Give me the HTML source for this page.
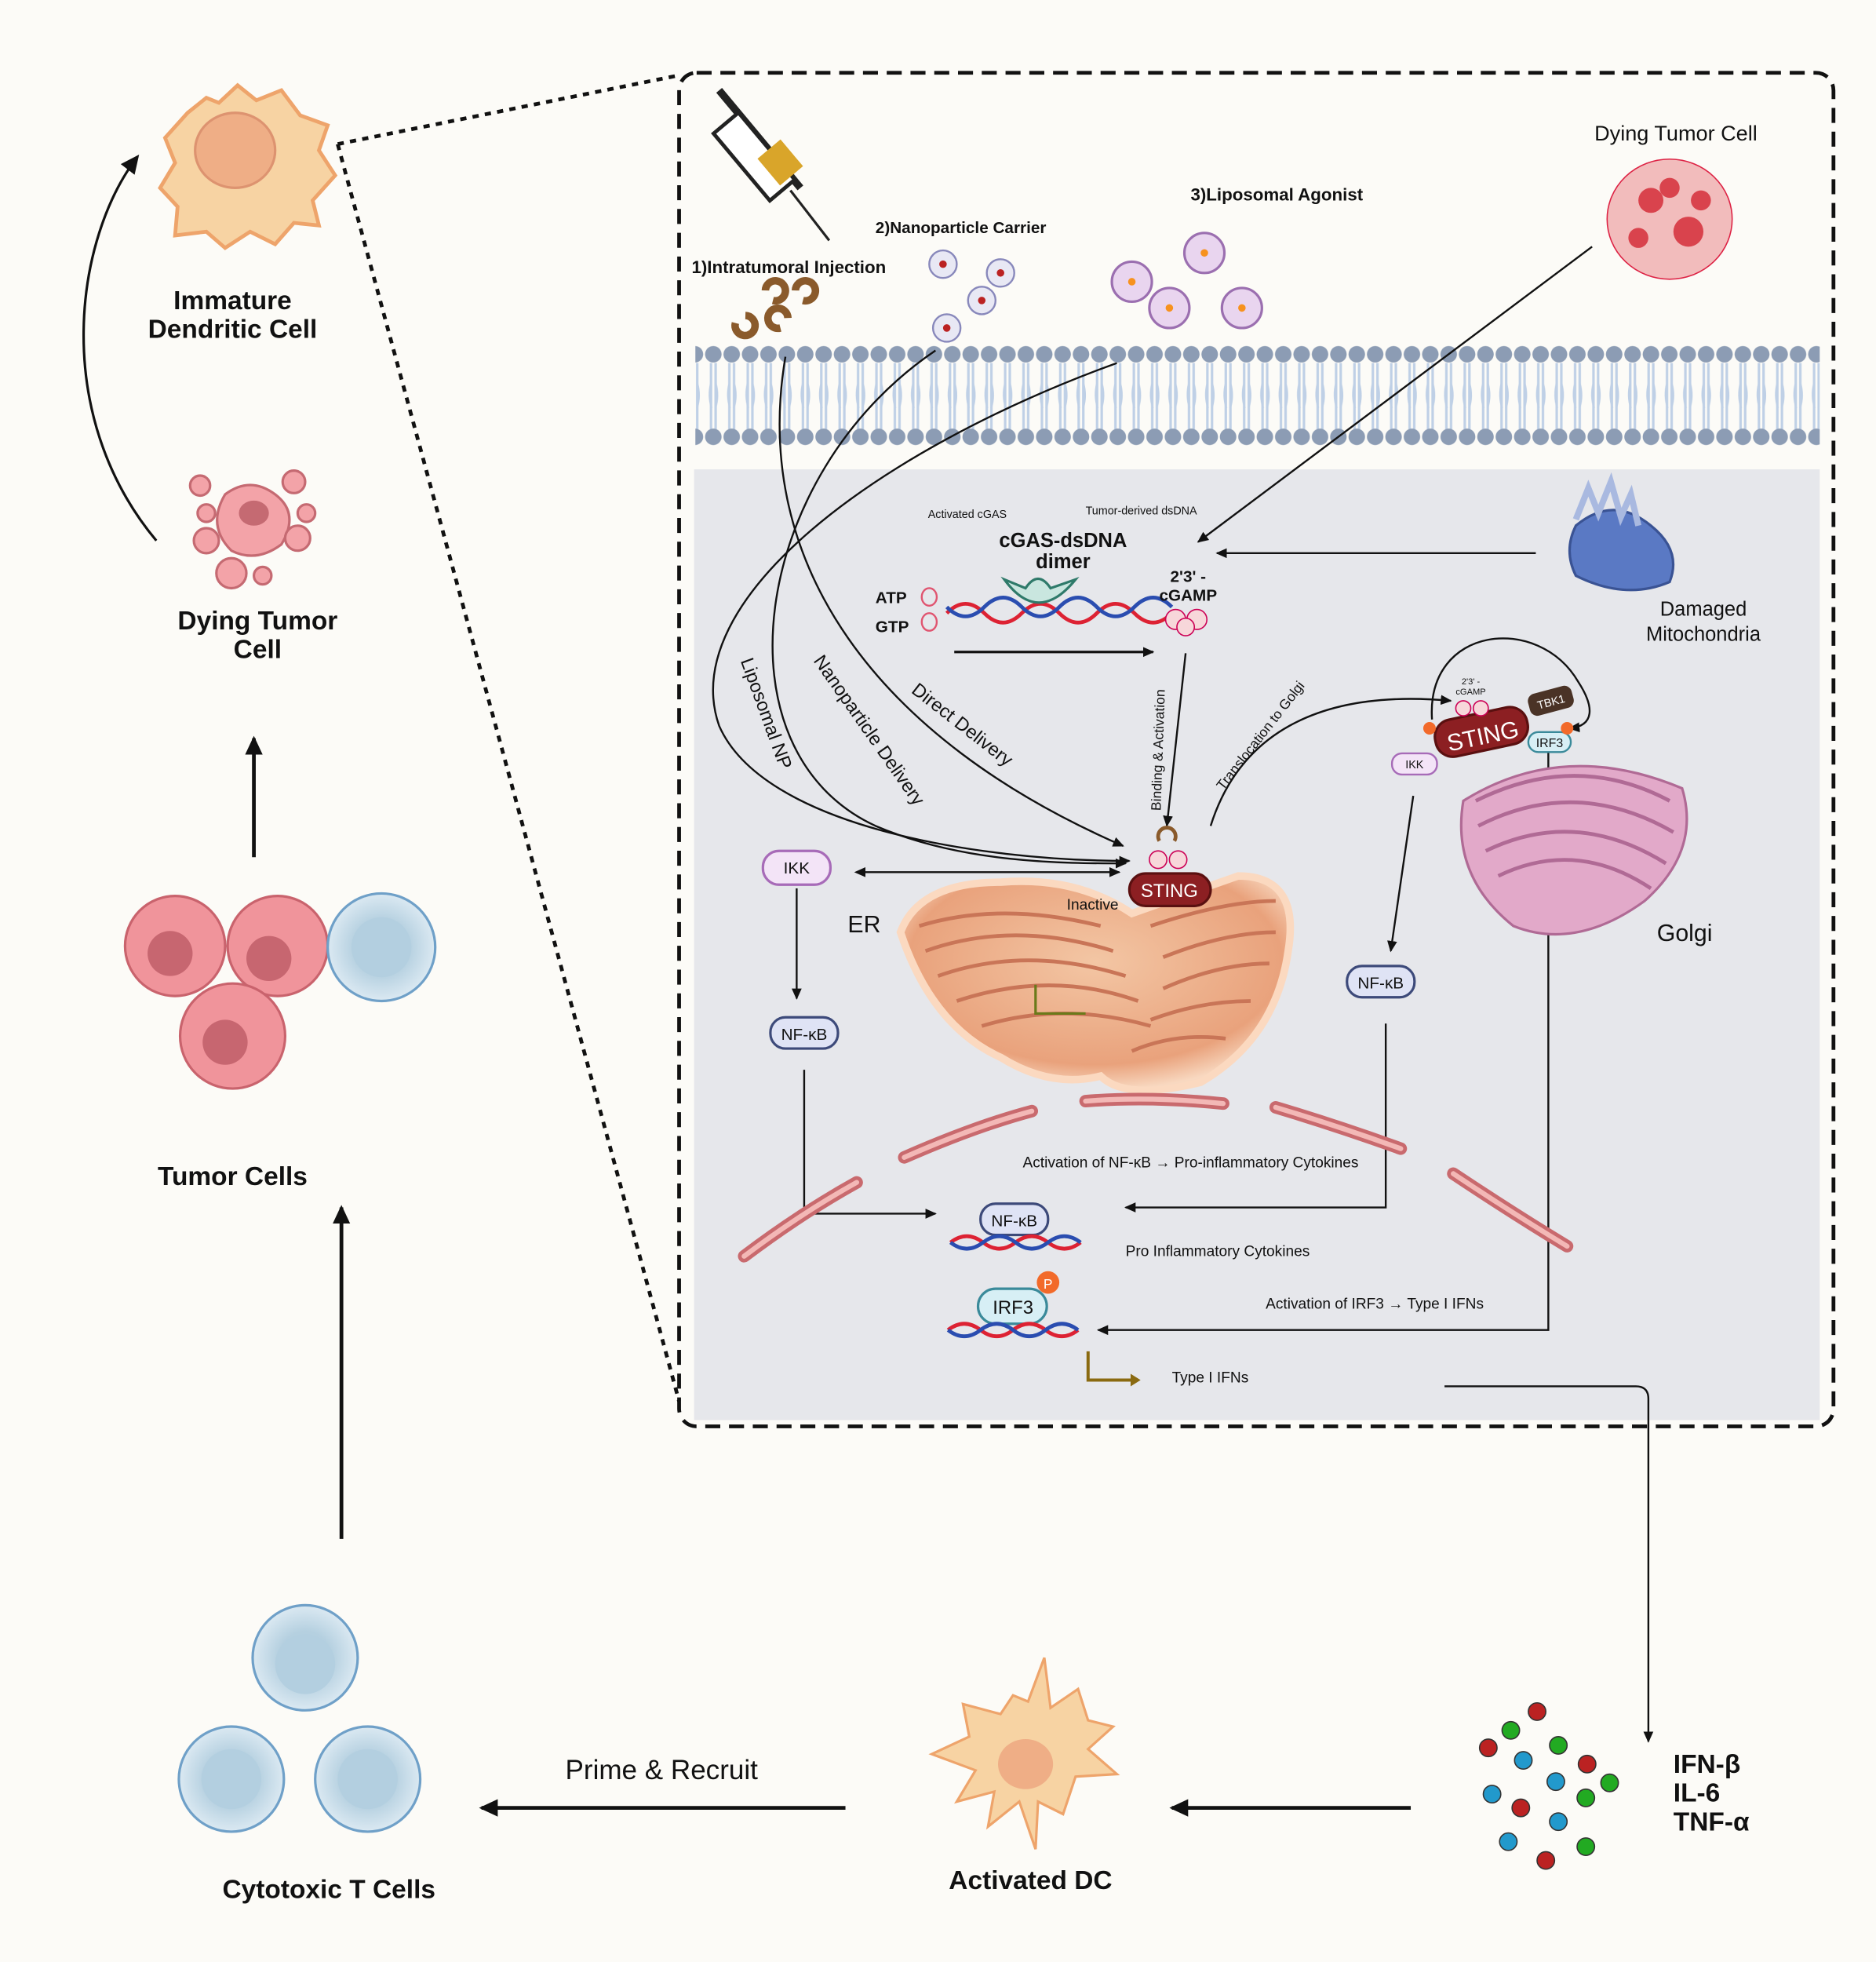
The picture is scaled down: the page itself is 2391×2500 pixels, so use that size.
<!DOCTYPE html>
<html><head><meta charset="utf-8"><style>
html,body{margin:0;padding:0;background:#fcfbf7;}
svg{display:block;}
text{font-family:"Liberation Sans",sans-serif;fill:#111;}
</style></head><body>
<svg width="2391" height="2500" viewBox="0 0 1500 1568" xmlns="http://www.w3.org/2000/svg">
<defs>
<pattern id="mem" x="563" y="0" width="14.7" height="1568" patternUnits="userSpaceOnUse">
<path d="M5.5 290 L5.5 343 M9.2 290 L9.2 343" stroke="#bfd0e6" stroke-width="2" fill="none"/>
<path d="M5.5 306 Q3 316 6 326 M9.2 306 Q12 316 9 326" stroke="#bfd0e6" stroke-width="1.5" fill="none"/>
<circle cx="7.35" cy="283" r="6.6" fill="#8c9cb4"/>
<circle cx="7.35" cy="349" r="6.6" fill="#8c9cb4"/>
</pattern>
<marker id="ar" markerWidth="10" markerHeight="10" refX="8" refY="5" orient="auto" markerUnits="userSpaceOnUse"><path d="M0 1 L9 5 L0 9 Z" fill="#111"/></marker>
<marker id="arb" markerWidth="16" markerHeight="16" refX="13" refY="8" orient="auto" markerUnits="userSpaceOnUse"><path d="M0 1 L15 8 L0 15 Z" fill="#111"/></marker>
<marker id="ars" markerWidth="10" markerHeight="10" refX="2" refY="5" orient="auto-start-reverse" markerUnits="userSpaceOnUse"><path d="M0 1 L9 5 L0 9 Z" fill="#111"/></marker>
<radialGradient id="erg" cx="50%" cy="40%" r="60%"><stop offset="0" stop-color="#f3c6a4"/><stop offset="0.8" stop-color="#e9a27c"/><stop offset="1" stop-color="#f8d8c0"/></radialGradient>
<radialGradient id="tcell"><stop offset="0.5" stop-color="#b5d0e0"/><stop offset="1" stop-color="#dbe9f2"/></radialGradient>
</defs>
<rect width="1500" height="1568" fill="#fcfbf7"/>

<!-- dotted zoom lines -->
<path d="M270 115 L543 60 M270 115 L543 1120" stroke="#111" stroke-width="3" stroke-dasharray="5 5" fill="none"/>
<!-- gray area -->
<rect x="555" y="375" width="900" height="760" fill="#e6e7eb"/>
<!-- membrane -->
<rect x="556" y="270" width="899" height="90" fill="url(#mem)"/>
<!-- dashed box -->
<rect x="543" y="58" width="923" height="1082" rx="14" fill="none" stroke="#111" stroke-width="3" stroke-dasharray="12 7"/>

<!-- Left column -->
<g>
<path d="M150 90 L165 78 L175 82 L190 68 L205 80 L225 72 L240 92 L262 100 L255 120 L268 140 L250 160 L255 180 L235 178 L220 195 L200 185 L180 198 L165 185 L140 188 L142 165 L128 150 L140 130 L132 110 Z" fill="#f7d3a3" stroke="#eea46b" stroke-width="3"/>
<ellipse cx="188" cy="120" rx="32" ry="30" fill="#efae86" stroke="#dd9370" stroke-width="2"/>
<text x="186" y="247" font-size="21" font-weight="bold" text-anchor="middle">Immature</text>
<text x="186" y="270" font-size="21" font-weight="bold" text-anchor="middle">Dendritic Cell</text>
<path d="M125 432 C40 330 60 190 110 125" stroke="#111" stroke-width="2" fill="none" marker-end="url(#arb)"/>
<g fill="#f3a3a8" stroke="#c56a72" stroke-width="2">
<path d="M180 395 Q200 380 220 395 Q240 410 225 435 Q205 450 185 440 Q165 420 180 395Z"/>
<circle cx="165" cy="432" r="10"/><circle cx="238" cy="430" r="10"/><circle cx="185" cy="458" r="12"/><circle cx="160" cy="388" r="8"/><circle cx="235" cy="385" r="9"/><circle cx="210" cy="460" r="7"/><circle cx="245" cy="410" r="7"/><circle cx="165" cy="410" r="7"/>
</g>
<ellipse cx="203" cy="410" rx="12" ry="10" fill="#c56a72"/>
<text x="206" y="503" font-size="21" font-weight="bold" text-anchor="middle">Dying Tumor</text>
<text x="206" y="526" font-size="21" font-weight="bold" text-anchor="middle">Cell</text>
<line x1="203" y1="685" x2="203" y2="590" stroke="#111" stroke-width="3" marker-end="url(#arb)"/>
<g fill="#f0949b" stroke="#c9636d" stroke-width="2">
<circle cx="140" cy="756" r="40"/><circle cx="222" cy="756" r="40"/><circle cx="186" cy="828" r="42"/>
</g>
<g fill="#c76670"><circle cx="136" cy="762" r="18"/><circle cx="215" cy="766" r="18"/><circle cx="180" cy="833" r="18"/></g>
<circle cx="305" cy="757" r="43" fill="url(#tcell)" stroke="#6fa0c8" stroke-width="2"/>
<circle cx="305" cy="757" r="24" fill="#b3cfe0"/>
<text x="186" y="947" font-size="21" font-weight="bold" text-anchor="middle">Tumor Cells</text>
<line x1="273" y1="1230" x2="273" y2="965" stroke="#111" stroke-width="3" marker-end="url(#arb)"/>
<g stroke="#6fa0c8" stroke-width="2" fill="url(#tcell)">
<circle cx="244" cy="1325" r="42"/><circle cx="185" cy="1422" r="42"/><circle cx="294" cy="1422" r="42"/></g>
<g fill="#b3cfe0"><circle cx="244" cy="1330" r="24"/><circle cx="185" cy="1422" r="24"/><circle cx="294" cy="1422" r="24"/></g>
<text x="263" y="1517" font-size="21" font-weight="bold" text-anchor="middle">Cytotoxic T Cells</text>
<line x1="676" y1="1445" x2="385" y2="1445" stroke="#111" stroke-width="3" marker-end="url(#arb)"/>
<text x="529" y="1422" font-size="22" text-anchor="middle">Prime &amp; Recruit</text>
<path d="M800 1370 L810 1355 L822 1360 L835 1325 L840 1365 L862 1350 L870 1375 L890 1380 L870 1398 L893 1418 L860 1420 L850 1450 L830 1440 L828 1478 L815 1440 L790 1460 L795 1432 L765 1440 L780 1415 L745 1402 L775 1388 L770 1362 Z" fill="#f7d3a3" stroke="#eea46b" stroke-width="2"/>
<ellipse cx="820" cy="1410" rx="22" ry="20" fill="#efae86"/>
<text x="824" y="1510" font-size="21" font-weight="bold" text-anchor="middle">Activated DC</text>
<line x1="1128" y1="1445" x2="937" y2="1445" stroke="#111" stroke-width="3" marker-end="url(#arb)"/>
<g stroke="#333" stroke-width="1">
<circle cx="1229" cy="1368" r="7" fill="#b22" /><circle cx="1208" cy="1383" r="7" fill="#2a2"/><circle cx="1190" cy="1397" r="7" fill="#b22"/><circle cx="1246" cy="1395" r="7" fill="#2a2"/><circle cx="1218" cy="1407" r="7" fill="#29c"/><circle cx="1269" cy="1410" r="7" fill="#b22"/><circle cx="1287" cy="1425" r="7" fill="#2a2"/><circle cx="1244" cy="1424" r="7" fill="#29c"/><circle cx="1193" cy="1434" r="7" fill="#29c"/><circle cx="1268" cy="1437" r="7" fill="#2a2"/><circle cx="1216" cy="1445" r="7" fill="#b22"/><circle cx="1246" cy="1456" r="7" fill="#29c"/><circle cx="1206" cy="1472" r="7" fill="#29c"/><circle cx="1268" cy="1476" r="7" fill="#2a2"/><circle cx="1236" cy="1487" r="7" fill="#b22"/>
</g>
<text x="1338" y="1417" font-size="21" font-weight="bold">IFN-β</text>
<text x="1338" y="1440" font-size="21" font-weight="bold">IL-6</text>
<text x="1338" y="1463" font-size="21" font-weight="bold">TNF-α</text>
<path d="M1155 1108 L1308 1108 Q1318 1108 1318 1118 L1318 1392" stroke="#111" stroke-width="1.5" fill="none" marker-end="url(#ar)"/>
</g>

<!-- Inside box top -->
<g>
<line x1="575" y1="72" x2="640" y2="150" stroke="#222" stroke-width="6"/>
<rect x="590" y="90" width="26" height="70" transform="rotate(-40 603 125)" fill="#fff" stroke="#222" stroke-width="3"/>
<rect x="604" y="128" width="24" height="28" transform="rotate(-40 603 125)" fill="#d9a52a"/>
<line x1="632" y1="152" x2="663" y2="192" stroke="#222" stroke-width="2"/>
<text x="553" y="218" font-size="14" font-weight="bold">1)Intratumoral Injection</text>
<text x="700" y="186" font-size="13" font-weight="bold">2)Nanoparticle Carrier</text>
<text x="952" y="160" font-size="14" font-weight="bold">3)Liposomal Agonist</text>
<text x="1340" y="112" font-size="17" text-anchor="middle">Dying Tumor Cell</text>
<g fill="none" stroke="#8a5a2b" stroke-width="6"><path d="M612 232 a8 8 0 1 1 6 8"/><path d="M636 232 a8 8 0 1 1 6 8"/><path d="M588 258 a8 8 0 1 0 8 -6"/><path d="M624 262 a8 8 0 1 1 6 -8"/></g>
<g fill="#e8e8f4" stroke="#8888bb" stroke-width="1.5"><circle cx="754" cy="211" r="11"/><circle cx="800" cy="218" r="11"/><circle cx="785" cy="240" r="11"/><circle cx="757" cy="262" r="11"/></g>
<g fill="#b22"><circle cx="754" cy="211" r="3"/><circle cx="800" cy="218" r="3"/><circle cx="785" cy="240" r="3"/><circle cx="757" cy="262" r="3"/></g>
<g fill="#e9d5ef" stroke="#9b6fb0" stroke-width="2"><circle cx="905" cy="225" r="16"/><circle cx="963" cy="202" r="16"/><circle cx="935" cy="246" r="16"/><circle cx="993" cy="246" r="16"/></g>
<g fill="#f7921e"><circle cx="905" cy="225" r="3"/><circle cx="963" cy="202" r="3"/><circle cx="935" cy="246" r="3"/><circle cx="993" cy="246" r="3"/></g>
<g fill="#f2bcbc" stroke="#d24" stroke-width="1"><ellipse cx="1335" cy="175" rx="50" ry="48"/></g>
<g fill="#d9434d"><circle cx="1320" cy="160" r="10"/><circle cx="1350" cy="185" r="12"/><circle cx="1335" cy="150" r="8"/><circle cx="1310" cy="190" r="8"/><circle cx="1360" cy="160" r="8"/></g>
</g>

<!-- paths -->
<g stroke="#111" stroke-width="1.5" fill="none">
<line x1="1273" y1="197" x2="958" y2="433" marker-end="url(#ar)"/>
<line x1="1228" y1="442" x2="973" y2="442" marker-end="url(#ar)"/>
<path d="M628 285 C600 450 700 590 898 676" marker-end="url(#ar)"/>
<path d="M748 280 C600 380 570 600 700 660 C770 690 850 690 900 690" marker-end="url(#ar)"/>
<path d="M893 290 C700 360 540 480 575 580 C610 660 780 688 903 688" marker-end="url(#ar)"/>
<line x1="763" y1="521" x2="922" y2="521" stroke-width="2" marker-end="url(#ar)"/>
<line x1="948" y1="522" x2="933" y2="660" marker-end="url(#ar)"/>
<path d="M968 660 C990 590 1050 550 1160 560" marker-end="url(#ar)"/>
<line x1="690" y1="697" x2="895" y2="697" marker-start="url(#ars)" marker-end="url(#ar)"/>
<line x1="637" y1="710" x2="637" y2="798" marker-end="url(#ar)"/>
<path d="M643 855 L643 970 L748 970" marker-end="url(#ar)"/>
<line x1="1130" y1="636" x2="1112" y2="760" marker-end="url(#ar)"/>
<path d="M1108 818 L1108 965 L900 965" marker-end="url(#ar)"/>
<path d="M1238 600 L1238 1063 L878 1063" marker-end="url(#ar)"/>
<path d="M1145 575 C1140 500 1230 490 1262 545 C1275 565 1275 580 1255 582" marker-end="url(#ar)"/>
</g>

<!-- cGAS region -->
<text x="742" y="414" font-size="9">Activated cGAS</text>
<text x="868" y="411" font-size="9">Tumor-derived dsDNA</text>
<text x="850" y="437" font-size="16" font-weight="bold" text-anchor="middle">cGAS-dsDNA</text>
<text x="850" y="454" font-size="16" font-weight="bold" text-anchor="middle">dimer</text>
<text x="700" y="482" font-size="13" font-weight="bold">ATP</text>
<text x="700" y="505" font-size="13" font-weight="bold">GTP</text>
<g fill="none" stroke="#e05570" stroke-width="1.5"><ellipse cx="743" cy="477" rx="6" ry="7"/><ellipse cx="743" cy="497" rx="6" ry="7"/></g>
<path d="M757 490 q15 -15 30 0 t30 0 t30 0 t30 0 t30 0 t30 0" stroke="#d23" stroke-width="3" fill="none"/>
<path d="M757 485 q15 15 30 0 t30 0 t30 0 t30 0 t30 0 t30 0" stroke="#2a4db0" stroke-width="3" fill="none"/>
<path d="M803 463 Q830 500 860 463 L840 470 Q830 455 820 470 Z" fill="#c9e6df" stroke="#2f7a6a" stroke-width="2"/>
<text x="950" y="465" font-size="13" font-weight="bold" text-anchor="middle">2'3' -</text>
<text x="950" y="480" font-size="13" font-weight="bold" text-anchor="middle">cGAMP</text>
<g fill="#f7d7da" stroke="#c05" stroke-width="1"><circle cx="940" cy="495" r="8"/><circle cx="957" cy="495" r="8"/><circle cx="948" cy="501" r="7"/></g>
<path d="M1260 420 Q1290 395 1320 420 Q1345 440 1335 465 Q1300 480 1260 460 Q1250 440 1260 420Z" fill="#5a79c4" stroke="#3a5394" stroke-width="2"/>
<path d="M1260 415 l10 -25 l8 20 l10 -25 l8 28 l8 -18 l6 25" stroke="#a9b9e0" stroke-width="5" fill="none"/>
<text x="1362" y="492" font-size="16" text-anchor="middle">Damaged</text>
<text x="1362" y="512" font-size="16" text-anchor="middle">Mitochondria</text>

<!-- rotated labels -->
<text transform="translate(592 528) rotate(70)" font-size="15">Liposomal NP</text>
<text transform="translate(650 528) rotate(55)" font-size="15">Nanoparticle Delivery</text>
<text transform="translate(728 553) rotate(38)" font-size="15">Direct Delivery</text>
<text transform="translate(928 648) rotate(-88)" font-size="11">Binding &amp; Activation</text>
<text transform="translate(978 632) rotate(-52)" font-size="11">Translocation to Golgi</text>

<!-- ER -->
<path d="M720 745 Q735 705 800 705 Q860 700 905 730 L990 700 Q1040 700 1030 760 Q1020 830 960 865 Q900 880 880 860 Q840 870 800 845 Q745 820 720 745Z" fill="url(#erg)" stroke="#fbd9c0" stroke-width="6"/>
<g fill="none" stroke="#c97557" stroke-width="3">
<path d="M735 740 Q800 720 880 740"/><path d="M740 760 Q810 735 890 760"/><path d="M750 780 Q820 755 900 780"/><path d="M765 800 Q840 775 910 800"/><path d="M785 820 Q850 800 920 820"/><path d="M920 740 Q980 720 1020 720"/><path d="M930 765 Q980 745 1020 745"/><path d="M930 790 Q975 770 1015 770"/><path d="M920 815 Q960 800 1000 800"/><path d="M905 840 Q940 825 980 830"/>
</g>
<path d="M828 787 L828 810 L868 810" stroke="#6a7a1a" stroke-width="2" fill="none"/>
<text x="691" y="745" font-size="19" text-anchor="middle">ER</text>
<text x="853" y="727" font-size="12">Inactive</text>
<rect x="903" y="698" width="65" height="26" rx="13" fill="#8c1f22" stroke="#5a1010" stroke-width="2"/>
<text x="935" y="717" font-size="15" fill="#fff" text-anchor="middle" style="fill:#fff">STING</text>
<g fill="#f7d7da" stroke="#c05" stroke-width="1"><circle cx="926" cy="687" r="7"/><circle cx="942" cy="687" r="7"/></g>
<path d="M927 672 a7 7 0 1 1 12 0" stroke="#8a5a2b" stroke-width="3" fill="none"/>

<!-- Golgi -->
<path d="M1170 640 Q1250 590 1345 630 Q1360 680 1315 720 Q1260 760 1210 740 Q1160 700 1170 640Z" fill="#e2a9c9" stroke="#b06a95" stroke-width="2"/>
<g fill="none" stroke="#b06a95" stroke-width="3"><path d="M1180 640 Q1260 600 1335 640"/><path d="M1182 660 Q1260 620 1338 665"/><path d="M1188 680 Q1260 645 1332 690"/><path d="M1198 700 Q1260 670 1320 710"/></g>
<text x="1347" y="752" font-size="19" text-anchor="middle">Golgi</text>
<rect x="1147" y="570" width="75" height="30" rx="14" transform="rotate(-12 1184 585)" fill="#8c1f22" stroke="#5a1010" stroke-width="2"/>
<text x="1185" y="595" font-size="19" text-anchor="middle" transform="rotate(-12 1184 585)" style="fill:#fff">STING</text>
<rect x="1222" y="551" width="36" height="18" rx="6" transform="rotate(-15 1240 560)" fill="#4a3326"/>
<text x="1240" y="564" font-size="9" text-anchor="middle" transform="rotate(-15 1240 560)" style="fill:#fff">TBK1</text>
<rect x="1222" y="585" width="34" height="16" rx="8" fill="#d7eff5" stroke="#3a8a9a" stroke-width="1.5"/>
<text x="1239" y="597" font-size="10" text-anchor="middle">IRF3</text>
<rect x="1113" y="602" width="36" height="17" rx="8" fill="#f3e4f7" stroke="#a76bb8" stroke-width="1.5"/>
<text x="1131" y="614" font-size="9" text-anchor="middle">IKK</text>
<circle cx="1143" cy="582" r="5" fill="#f26a2a"/><circle cx="1253" cy="582" r="5" fill="#f26a2a"/>
<text x="1176" y="547" font-size="7" text-anchor="middle">2'3' -</text>
<text x="1176" y="555" font-size="7" text-anchor="middle">cGAMP</text>
<g fill="#f7d7da" stroke="#c05" stroke-width="1"><circle cx="1170" cy="566" r="6"/><circle cx="1184" cy="566" r="6"/></g>

<!-- nodes -->
<rect x="610" y="680" width="54" height="27" rx="13" fill="#f3e4f7" stroke="#a76bb8" stroke-width="2"/>
<text x="637" y="698" font-size="13" text-anchor="middle">IKK</text>
<rect x="616" y="813" width="54" height="25" rx="12" fill="#dfe3f5" stroke="#3d4a7a" stroke-width="2"/>
<text x="643" y="831" font-size="13" text-anchor="middle">NF-κB</text>
<rect x="1077" y="772" width="54" height="25" rx="12" fill="#dfe3f5" stroke="#3d4a7a" stroke-width="2"/>
<text x="1104" y="790" font-size="13" text-anchor="middle">NF-κB</text>

<!-- red tubes -->
<g stroke="#c96a6e" stroke-width="10" stroke-linecap="round" fill="none">
<path d="M723 925 Q780 900 825 888"/><path d="M868 880 Q920 876 978 882"/><path d="M1020 885 Q1070 900 1120 918"/><path d="M1162 938 Q1210 970 1253 996"/><path d="M595 1004 Q640 970 685 945"/>
</g>
<g stroke="#f3b8b6" stroke-width="4" stroke-linecap="round" fill="none">
<path d="M723 925 Q780 900 825 888"/><path d="M868 880 Q920 876 978 882"/><path d="M1020 885 Q1070 900 1120 918"/><path d="M1162 938 Q1210 970 1253 996"/><path d="M595 1004 Q640 970 685 945"/>
</g>
<text x="952" y="933" font-size="12" text-anchor="middle">Activation of NF-κB → Pro-inflammatory Cytokines</text>

<!-- DNA nuclear -->
<rect x="784" y="962" width="54" height="25" rx="12" fill="#dfe3f5" stroke="#3d4a7a" stroke-width="2"/>
<text x="811" y="980" font-size="13" text-anchor="middle">NF-κB</text>
<path d="M760 993 q13 -10 26 0 t26 0 t26 0 t26 0" stroke="#d23" stroke-width="3" fill="none"/>
<path d="M760 993 q13 10 26 0 t26 0 t26 0 t26 0" stroke="#2a4db0" stroke-width="3" fill="none"/>
<text x="900" y="1004" font-size="12">Pro Inflammatory Cytokines</text>
<rect x="782" y="1030" width="55" height="28" rx="14" fill="#d7eff5" stroke="#3a8a9a" stroke-width="2"/>
<text x="810" y="1050" font-size="15" text-anchor="middle">IRF3</text>
<circle cx="838" cy="1025" r="9" fill="#f26a2a"/>
<text x="838" y="1030" font-size="11" text-anchor="middle" style="fill:#fff">P</text>
<path d="M758 1063 q13 -10 26 0 t26 0 t26 0 t26 0" stroke="#d23" stroke-width="3" fill="none"/>
<path d="M758 1063 q13 10 26 0 t26 0 t26 0 t26 0" stroke="#2a4db0" stroke-width="3" fill="none"/>
<text x="1012" y="1046" font-size="12">Activation of IRF3 → Type I IFNs</text>
<path d="M870 1080 L870 1103 L908 1103" stroke="#8a6a10" stroke-width="2.5" fill="none"/>
<path d="M904 1098 L912 1103 L904 1108 Z" fill="#8a6a10"/>
<text x="937" y="1105" font-size="12">Type I IFNs</text>
</svg>
</body></html>
